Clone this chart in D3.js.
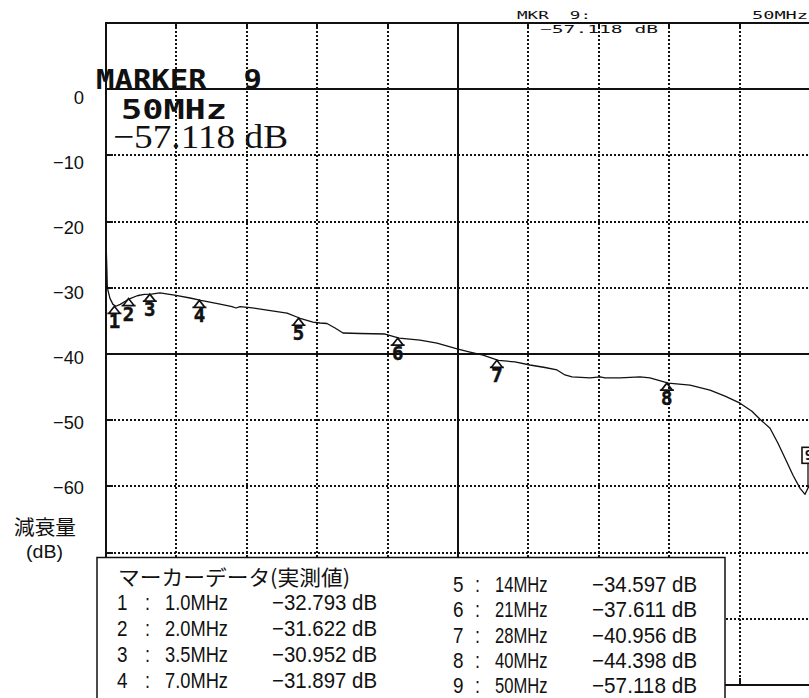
<!DOCTYPE html>
<html><head><meta charset="utf-8">
<script src="https://cdn.jsdelivr.net/npm/d3@7"></script>
<style>html,body{margin:0;padding:0;background:#fff;} svg{display:block;}</style>
</head><body><svg id="c" width="809" height="698"></svg>
<script>
// ---- data ----
const freqStart = 0.3, freqStop = 50;        // MHz
const dbTop = 10, dbBottom = -90;            // dB
const yTickValues = [0, -10, -20, -30, -40, -50, -60];
const traceFreq = [0.30,0.32,0.36,0.39,0.44,0.58,0.79,1.0,1.3,1.6,2.0,2.5,3.0,3.5,4.11,5.24,6.23,7.0,8.35,9.2,9.48,9.76,10.47,11.67,13.08,14.0,14.91,15.41,15.9,16.47,17.03,18.23,20.0,21.0,22.47,23.67,25.15,26.0,26.92,28.0,29.17,30.23,31.29,32.14,32.7,33.2,34.47,35.18,35.53,36.59,38.0,38.7,40.0,41.53,42.94,44.0,45.06,45.9,46.47,47.18,47.74,48.24,48.8,49.3,49.65,50.0];
const traceDb = [-24.0,-24.3,-27.0,-29.7,-30.4,-31.6,-32.5,-32.79,-32.5,-32.1,-31.62,-31.2,-31.0,-30.95,-30.78,-31.16,-31.54,-31.9,-32.45,-32.83,-33.05,-32.83,-32.98,-33.36,-33.81,-34.6,-35.17,-35.32,-35.39,-36.07,-36.83,-36.9,-36.98,-37.61,-37.9,-38.35,-39.26,-39.71,-40.17,-40.96,-41.2,-41.66,-42.04,-42.41,-43.17,-43.47,-43.62,-43.47,-43.62,-43.62,-43.47,-43.62,-44.4,-44.7,-45.46,-46.37,-47.43,-48.64,-49.85,-51.21,-53.48,-55.75,-58.32,-60.29,-61.2,-59.6];
const markerIds = [1, 2, 3, 4, 5, 6, 7, 8, 9];
const markerFreq = [1.0, 2.0, 3.5, 7.0, 14, 21, 28, 40, 50];
const markerDb = [-32.793, -31.622, -30.952, -31.897, -34.597, -37.611, -40.956, -44.398, -57.118];
const activeMarker = 9;
const tableTitle = "マーカーデータ(実測値)";
const yTitle = ["減衰量", "(dB)"];

// ---- helpers ----
const fmtFreq = f => (f < 10 ? f.toFixed(1) : String(f)) + "MHz";
const fmtDb = d => "−" + Math.abs(d).toFixed(3) + " dB";
const fmtTick = v => v < 0 ? "−" + Math.abs(v) : String(v);

const svg = d3.select("#c");
svg.append("rect").attr("width", 809).attr("height", 698).attr("fill", "#fff");

const x = d3.scaleLinear().domain([freqStart, freqStop]).range([106, 810]);
const y = d3.scaleLinear().domain([dbTop, dbBottom]).range([23, 685]);
const ink = "#111";
const R = v => Math.round(v);

// grid
const g = svg.append("g").attr("shape-rendering", "crispEdges");
const xDiv = d3.range(11).map(i => freqStart + i * (freqStop - freqStart) / 10);
const yDiv = d3.range(dbTop, dbBottom - 1, -10);
g.selectAll(".vg").data(xDiv.slice(1, 10)).join("line")
  .attr("x1", d => R(x(d))).attr("x2", d => R(x(d))).attr("y1", R(y(dbTop))).attr("y2", R(y(dbBottom)))
  .attr("stroke", ink).attr("stroke-width", 1.5)
  .attr("stroke-dasharray", (d, i) => i === 4 ? null : "2,2");
g.selectAll(".hg").data(yDiv.slice(1, 10)).join("line")
  .attr("x1", R(x(freqStart))).attr("x2", R(x(freqStop))).attr("y1", d => R(y(d))).attr("y2", d => R(y(d)))
  .attr("stroke", ink).attr("stroke-width", 1.5)
  .attr("stroke-dasharray", d => (d === 0 || d === -40) ? null : "2,2");
// small solid ticks at grid ends
g.selectAll(".vt").data(xDiv.slice(1, 10)).join("path")
  .attr("d", d => `M${R(x(d))},${R(y(dbTop))}v6M${R(x(d))},${R(y(dbBottom))}v-7`)
  .attr("stroke", ink).attr("stroke-width", 1.5);
g.selectAll(".ht").data(yDiv.slice(1, 10)).join("path")
  .attr("d", d => `M${R(x(freqStart))},${R(y(d))}h7`)
  .attr("stroke", ink).attr("stroke-width", 1.5);
// frame
g.append("path")
  .attr("d", `M${R(x(freqStop))},${R(y(dbTop))}H${R(x(freqStart))}V${R(y(dbBottom))}H${R(x(freqStop))}`)
  .attr("fill", "none").attr("stroke", ink).attr("stroke-width", 1.8);

// trace
const trace = traceFreq.map((f, i) => [f, traceDb[i]]);
svg.append("path").datum(trace)
  .attr("d", d3.line().x(d => x(d[0])).y(d => y(d[1])))
  .attr("fill", "none").attr("stroke", ink).attr("stroke-width", 1.3).attr("stroke-linejoin", "round");

// markers
const markers = markerIds.map((id, i) => ({id, f: markerFreq[i], db: markerDb[i]}));
const mk = svg.append("g");
markers.filter(m => m.id !== activeMarker).forEach(m => {
  const mx = x(m.f) - 1.5, my = y(m.db);
  mk.append("path")
    .attr("d", `M${mx},${my}L${mx - 5.5},${my + 7}H${mx + 5.5}Z M${mx - 7},${my + 7}H${mx + 7}`)
    .attr("fill", "none").attr("stroke", ink).attr("stroke-width", 1.7);
  mk.append("text").attr("x", mx).attr("y", my + 22)
    .attr("text-anchor", "middle").attr("font-family", "DejaVu Sans Mono")
    .attr("font-weight", "bold").attr("font-size", 19).attr("fill", ink)
    .attr("stroke", ink).attr("stroke-width", 0.5).text(m.id);
});
markers.filter(m => m.id === activeMarker).forEach(m => {
  const mx = x(m.f) - 2, my = y(m.db);
  mk.append("rect").attr("x", mx - 6).attr("y", my - 20).attr("width", 14).attr("height", 16)
    .attr("fill", "#fff").attr("stroke", ink).attr("stroke-width", 1.6);
  mk.append("text").attr("x", mx + 1).attr("y", my - 7).attr("text-anchor", "middle")
    .attr("font-family", "DejaVu Sans Mono").attr("font-weight", "bold").attr("font-size", 14)
    .attr("fill", ink).text(m.id);
  mk.append("line").attr("x1", mx).attr("x2", mx).attr("y1", my - 4).attr("y2", my + 20)
    .attr("stroke", ink).attr("stroke-width", 1.3);
});

// header texts (analyzer screen)
const act = markers.find(m => m.id === activeMarker);
const txt = (t, xx, yy, fam, size, len, weight) => {
  const e = svg.append("text").attr("x", xx).attr("y", yy).attr("font-family", fam)
    .attr("font-size", size).attr("fill", ink).attr("xml:space", "preserve")
    .style("white-space", "pre").text(t);
  if (weight) e.attr("font-weight", weight);
  if (len) e.attr("textLength", len).attr("lengthAdjust", "spacingAndGlyphs");
  return e;
};
txt("MARKER  " + act.id, 96, 89, "DejaVu Sans Mono", 27, 166, "bold");
txt(fmtFreq(act.f), 121, 119, "DejaVu Sans Mono", 27, 106, "bold");
txt("−" + Math.abs(act.db).toFixed(3) + " dB", 113, 148, "Liberation Serif", 34, 175);
txt("MKR  " + act.id + ":", 517, 19, "DejaVu Sans Mono", 10.5, 74);
txt("−" + Math.abs(act.db).toFixed(3) + " dB", 540, 33, "DejaVu Sans Mono", 10.5, 118);
txt(fmtFreq(act.f), 752, 19, "DejaVu Sans Mono", 10.5, 56);

// y-axis labels
const yl = d3.scaleLinear().domain([0, -60]).range([96.5, 487]);
svg.selectAll(".yl").data(yTickValues).join("text")
  .attr("x", 84).attr("y", d => yl(d) + 7).attr("text-anchor", "end")
  .attr("font-family", "Liberation Sans").attr("font-size", 19).attr("fill", ink)
  .attr("textLength", d => fmtTick(d).length * 10.3).attr("lengthAdjust", "spacingAndGlyphs")
  .text(d => fmtTick(d));
txt(yTitle[0], 14, 535, "Noto Sans CJK JP", 20.5, 62);
txt(yTitle[1], 26, 558, "Liberation Sans", 19, 37);

// table
svg.append("rect").attr("x", 97).attr("y", 557.5).attr("width", 628).attr("height", 200)
  .attr("fill", "#fff").attr("stroke", ink).attr("stroke-width", 1.5);
txt(tableTitle, 118, 585, "Noto Sans CJK JP", 21, 232);
const cw = 10.5;
const tf = "Liberation Sans";
const cols = [
  {rows: markers.slice(0, 4), base: 610, step: 26, num: 117, colon: 145, freq: 165, val: 272},
  {rows: markers.slice(4), base: 592, step: 25.3, num: 453, colon: 475, freq: 495, val: 592}
];
cols.forEach(c => {
  c.rows.forEach((m, i) => {
    const yy = c.base + i * c.step;
    txt(String(m.id), c.num, yy, tf, 22.5, cw * String(m.id).length);
    txt(":", c.colon, yy, tf, 22.5, 5);
    const fs = fmtFreq(m.f);
    txt(fs, c.freq, yy, tf, 22.5, cw * fs.length);
    const ds = fmtDb(m.db);
    txt(ds, c.val, yy, tf, 22.5, cw * ds.length);
  });
});
</script></body></html>
